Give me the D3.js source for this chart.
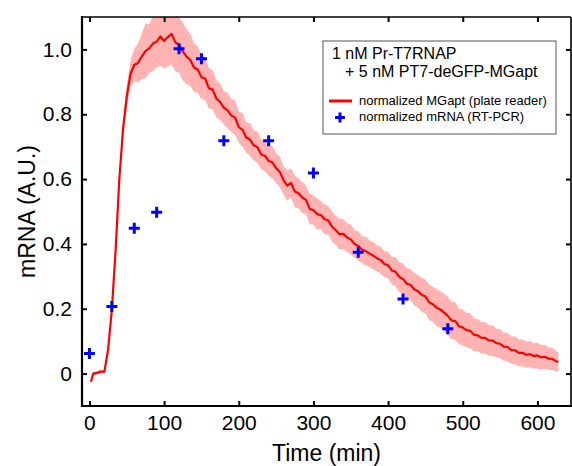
<!DOCTYPE html>
<html>
<head>
<meta charset="utf-8">
<script src="https://cdn.jsdelivr.net/npm/d3@7"></script>
<style>
  body { margin: 0; background: #fff; }
  text { font-family: "Liberation Sans", Arial, sans-serif; fill: #000; }
</style>
</head>
<body>
<svg id="chart" width="572" height="466"></svg>
<script>
// plate reader trace (normalized MGapt)
const readerTimes = [2, 5, 10, 15, 20, 25, 30, 35, 40, 45, 50, 55, 60, 65, 70, 75, 80, 85, 90, 95,
    100, 105, 110, 115, 120, 125, 130, 135, 140, 145, 150, 155, 160, 165, 170, 175, 180, 185, 190, 195,
    200, 205, 210, 215, 220, 225, 230, 235, 240, 245, 250, 255, 260, 265, 270, 275, 280, 285, 290, 295,
    300, 305, 310, 315, 320, 325, 330, 335, 340, 345, 350, 355, 360, 365, 370, 375, 380, 385, 390, 395,
    400, 405, 410, 415, 420, 425, 430, 435, 440, 445, 450, 455, 460, 465, 470, 475, 480, 485, 490, 495,
    500, 505, 510, 515, 520, 525, 530, 535, 540, 545, 550, 555, 560, 565, 570, 575, 580, 585, 590, 595,
    600, 605, 610, 615, 620, 625, 628];
const readerMean = [-0.025, 0.000, 0.002, 0.006, 0.006, 0.075, 0.197, 0.380, 0.600, 0.755, 0.855, 0.925, 0.952, 0.958, 0.978, 0.995, 1.003, 1.018, 1.024, 1.040,
    1.026, 1.038, 1.048, 1.022, 1.014, 0.994, 0.978, 0.968, 0.944, 0.938, 0.914, 0.910, 0.880, 0.876, 0.848, 0.838, 0.820, 0.812, 0.796, 0.790,
    0.760, 0.752, 0.728, 0.722, 0.704, 0.698, 0.676, 0.672, 0.656, 0.652, 0.634, 0.622, 0.596, 0.580, 0.588, 0.562, 0.556, 0.543, 0.536, 0.508,
    0.504, 0.492, 0.489, 0.476, 0.472, 0.453, 0.442, 0.430, 0.431, 0.420, 0.414, 0.400, 0.394, 0.382, 0.378, 0.370, 0.364, 0.356, 0.350, 0.338,
    0.334, 0.318, 0.314, 0.298, 0.292, 0.277, 0.274, 0.260, 0.254, 0.243, 0.238, 0.220, 0.214, 0.203, 0.198, 0.188, 0.178, 0.164, 0.162, 0.146,
    0.142, 0.134, 0.132, 0.120, 0.118, 0.110, 0.110, 0.102, 0.102, 0.094, 0.092, 0.083, 0.082, 0.072, 0.072, 0.064, 0.064, 0.058, 0.060, 0.054,
    0.056, 0.050, 0.052, 0.046, 0.045, 0.038, 0.036];
const readerSpread = [0.005, 0.005, 0.005, 0.005, 0.005, 0.006, 0.010, 0.015, 0.020, 0.030, 0.035, 0.040, 0.050, 0.060, 0.070, 0.085, 0.075, 0.085, 0.080, 0.090,
    0.085, 0.090, 0.095, 0.090, 0.085, 0.090, 0.085, 0.080, 0.075, 0.072, 0.068, 0.066, 0.063, 0.060, 0.058, 0.056, 0.052, 0.055, 0.050, 0.053,
    0.048, 0.052, 0.047, 0.050, 0.046, 0.049, 0.045, 0.048, 0.046, 0.050, 0.045, 0.048, 0.044, 0.047, 0.045, 0.049, 0.046, 0.048, 0.044, 0.047,
    0.045, 0.048, 0.043, 0.046, 0.044, 0.047, 0.045, 0.048, 0.046, 0.044, 0.047, 0.043, 0.045, 0.042, 0.044, 0.041, 0.043, 0.040, 0.042, 0.040,
    0.041, 0.043, 0.045, 0.047, 0.046, 0.049, 0.048, 0.051, 0.050, 0.053, 0.052, 0.055, 0.054, 0.057, 0.056, 0.058, 0.059, 0.057, 0.058, 0.055,
    0.056, 0.053, 0.054, 0.051, 0.050, 0.048, 0.049, 0.046, 0.047, 0.044, 0.045, 0.043, 0.044, 0.042, 0.043, 0.041, 0.042, 0.040, 0.041, 0.039,
    0.040, 0.038, 0.037, 0.035, 0.034, 0.032, 0.030];

// RT-PCR points (normalized mRNA)
const pcrTimes = [0, 30, 60, 90, 120, 150, 180, 240, 300, 360, 420, 480];
const pcrValues = [0.062, 0.207, 0.448, 0.498, 1.002, 0.971, 0.718, 0.718, 0.619, 0.374, 0.230, 0.138];

const xTicks = [0, 100, 200, 300, 400, 500, 600];
const yTicks = [0, 0.2, 0.4, 0.6, 0.8, 1.0];
const legendTitle = ["1 nM Pr-T7RNAP", "+ 5 nM PT7-deGFP-MGapt"];
const legendLabels = ["normalized MGapt (plate reader)", "normalized mRNA (RT-PCR)"];

const margin = { top: 17, right: 1, bottom: 60, left: 82 };
const svgWidth = 572, svgHeight = 466;
const width = svgWidth - margin.left - margin.right;
const height = svgHeight - margin.top - margin.bottom;

const svg = d3.select("#chart");
const chartArea = svg.append("g").attr("transform", `translate(${margin.left},${margin.top})`);

const xScale = d3.scaleLinear().domain([-10, 645]).range([0, width]);
const yScale = d3.scaleLinear().domain([-0.1, 1.1]).range([height, 0]);

const readerData = readerTimes.map((t, i) => ({ t: t, mean: readerMean[i], spread: readerSpread[i] }));
const pcrData = pcrTimes.map((t, i) => ({ t: t, value: pcrValues[i] }));

svg.append("defs").append("clipPath").attr("id", "plot-clip")
    .append("rect").attr("width", width).attr("height", height);

const plot = chartArea.append("g").attr("clip-path", "url(#plot-clip)");

const band = d3.area()
    .x(d => xScale(d.t))
    .y0(d => yScale(d.mean - d.spread))
    .y1(d => yScale(d.mean + d.spread));

const line = d3.line()
    .x(d => xScale(d.t))
    .y(d => yScale(d.mean));

plot.append("path")
    .datum(readerData)
    .attr("fill", "#ffb3b3")
    .attr("stroke", "none")
    .attr("d", band);

plot.append("path")
    .datum(readerData)
    .attr("fill", "none")
    .attr("stroke", "#ff0000")
    .attr("stroke-width", 2.2)
    .attr("stroke-linejoin", "round")
    .attr("d", line);

const plusPath = s => `M${-s},0H${s}M0,${-s}V${s}`;

plot.selectAll(".pcr-point")
    .data(pcrData)
    .join("path")
    .attr("class", "pcr-point")
    .attr("transform", d => `translate(${xScale(d.t)},${yScale(d.value)})`)
    .attr("d", plusPath(5.5))
    .attr("stroke", "#0000ff")
    .attr("stroke-width", 3)
    .attr("fill", "none");

// axes with inward ticks on all four sides
const tickLen = 5;
const styleAxis = g => {
    g.select(".domain").remove();
    g.selectAll(".tick line").attr("stroke", "#000").attr("stroke-width", 2);
    g.selectAll(".tick text").style("font-size", "21px").attr("fill", "#000");
};

chartArea.append("g")
    .attr("transform", `translate(0,${height})`)
    .call(d3.axisBottom(xScale).tickValues(xTicks).tickSizeInner(-tickLen).tickSizeOuter(0).tickPadding(9))
    .call(styleAxis);

chartArea.append("g")
    .call(d3.axisTop(xScale).tickValues(xTicks).tickSizeInner(-tickLen).tickSizeOuter(0).tickFormat(""))
    .call(styleAxis);

chartArea.append("g")
    .call(d3.axisLeft(yScale).tickValues(yTicks).tickSizeInner(-tickLen).tickSizeOuter(0).tickPadding(10)
        .tickFormat(d => d === 0 ? "0" : d3.format(".1f")(d)))
    .call(styleAxis);

chartArea.append("g")
    .attr("transform", `translate(${width},0)`)
    .call(d3.axisRight(yScale).tickValues(yTicks).tickSizeInner(-tickLen).tickSizeOuter(0).tickFormat(""))
    .call(styleAxis);

// frame
chartArea.append("line").attr("x1", 0).attr("x2", 0).attr("y1", -1).attr("y2", height + 1)
    .attr("stroke", "#000").attr("stroke-width", 2.2);
chartArea.append("line").attr("x1", -1).attr("x2", width + 1).attr("y1", height).attr("y2", height)
    .attr("stroke", "#000").attr("stroke-width", 2.2);
chartArea.append("line").attr("x1", 0).attr("x2", width).attr("y1", 0).attr("y2", 0)
    .attr("stroke", "#000").attr("stroke-width", 1.6);
chartArea.append("line").attr("x1", width).attr("x2", width).attr("y1", 0).attr("y2", height)
    .attr("stroke", "#000").attr("stroke-width", 1.6);

// axis titles
svg.append("text")
    .attr("x", margin.left + width / 2)
    .attr("y", 461)
    .attr("text-anchor", "middle")
    .style("font-size", "23px")
    .text("Time (min)");

svg.append("text")
    .attr("transform", `translate(35,${margin.top + height / 2}) rotate(-90)`)
    .attr("text-anchor", "middle")
    .style("font-size", "23px")
    .text("mRNA (A.U.)");

// legend
const legend = svg.append("g").attr("transform", "translate(323,41)");

legend.append("rect")
    .attr("width", 233)
    .attr("height", 93)
    .attr("fill", "#fff")
    .attr("stroke", "#555")
    .attr("stroke-width", 1);

legend.selectAll(".legend-title")
    .data(legendTitle)
    .join("text")
    .attr("class", "legend-title")
    .attr("x", (d, i) => i === 0 ? 9 : 22)
    .attr("y", (d, i) => 17.5 + i * 18.5)
    .style("font-size", "16px")
    .text(d => d);

legend.append("line")
    .attr("x1", 6).attr("x2", 29).attr("y1", 60).attr("y2", 60)
    .attr("stroke", "#ff0000").attr("stroke-width", 3);

legend.append("path")
    .attr("transform", "translate(17,76.5)")
    .attr("d", plusPath(5))
    .attr("stroke", "#0000ff")
    .attr("stroke-width", 3)
    .attr("fill", "none");

legend.selectAll(".legend-label")
    .data(legendLabels)
    .join("text")
    .attr("class", "legend-label")
    .attr("x", 36)
    .attr("y", (d, i) => 63.5 + i * 16.5)
    .style("font-size", "13px")
    .text(d => d);
</script>
</body>
</html>
